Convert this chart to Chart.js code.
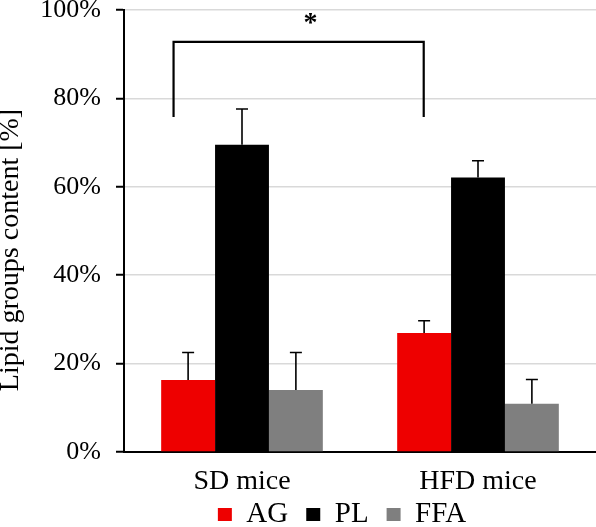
<!DOCTYPE html>
<html>
<head>
<meta charset="utf-8">
<script src="https://cdn.jsdelivr.net/npm/chart.js@4.4.0/dist/chart.umd.min.js"></script>
<style>
  html, body { margin: 0; padding: 0; background: #fff; }
  #wrap { width: 596px; height: 527px; }
</style>
</head>
<body>
<div id="wrap"><canvas id="lipidChart"></canvas></div>
<script>
const groups = ["SD mice", "HFD mice"];
const seriesNames = ["AG", "PL", "FFA"];
const agValues = [16.3, 26.9];
const plValues = [69.5, 62.1];
const ffaValues = [14.0, 10.9];
// only the upper half of the error bars is visible
const agErrors = [6.2, 2.8];
const plErrors = [8.1, 3.8];
const ffaErrors = [8.5, 5.5];
const yTicks = [0, 20, 40, 60, 80, 100];
const yTitle = "Lipid groups content [%]";
// significance bracket: x in category units, y in %
const bracketX = [-0.29, 0.77];
const bracketY = [92.8, 75.8];
const starAt = [0.29, 98.2];

const serif = "'Liberation Serif', 'Times New Roman', serif";

const extras = {
  id: "extras",
  beforeLayout(chart) {
    // legend box is made shorter than chart.js would make it
    const lg = chart.legend;
    if (lg && !lg.fitWrapped) {
      const fit = lg.fit;
      lg.fit = function () {
        fit.call(this);
        this.height = 30;
      };
      lg.fitWrapped = true;
    }
  },
  afterLayout(chart) {
    chart.legend.left = 88;
    chart.legend.top = 482;
  },
  afterDatasetsDraw(chart) {
    const ctx = chart.ctx;
    const xs = chart.scales.x;
    const ys = chart.scales.y;
    ctx.save();
    ctx.strokeStyle = "#000";
    ctx.lineWidth = 1.6;
    chart.data.datasets.forEach((ds, di) => {
      const meta = chart.getDatasetMeta(di);
      meta.data.forEach((bar, i) => {
        const top = ys.getPixelForValue(ds.data[i] + ds.errUp[i]);
        ctx.beginPath();
        ctx.moveTo(bar.x, bar.y);
        ctx.lineTo(bar.x, top);
        ctx.moveTo(bar.x - 6, top);
        ctx.lineTo(bar.x + 6, top);
        ctx.stroke();
      });
    });

    // bracket
    const x1 = xs.getPixelForValue(bracketX[0]);
    const x2 = xs.getPixelForValue(bracketX[1]);
    const yTop = ys.getPixelForValue(bracketY[0]);
    const yLeg = ys.getPixelForValue(bracketY[1]);
    ctx.lineWidth = 2.2;
    ctx.beginPath();
    ctx.moveTo(x1, yLeg);
    ctx.lineTo(x1, yTop);
    ctx.lineTo(x2, yTop);
    ctx.lineTo(x2, yLeg);
    ctx.stroke();

    ctx.fillStyle = "#000";
    ctx.font = "bold 28px " + serif;
    ctx.textAlign = "center";
    ctx.textBaseline = "alphabetic";
    ctx.fillText("*", xs.getPixelForValue(starAt[0]), ys.getPixelForValue(starAt[1]) + 13);

    // y title, sits a bit below the middle of the axis
    ctx.font = "28px " + serif;
    ctx.textBaseline = "middle";
    ctx.translate(11, (ys.top + ys.bottom) / 2 + 19);
    ctx.rotate(-Math.PI / 2);
    ctx.fillText(yTitle, 0, 0);
    ctx.restore();
  }
};

new Chart(document.getElementById("lipidChart"), {
  type: "bar",
  data: {
    labels: groups,
    datasets: [
      { label: seriesNames[0], data: agValues, errUp: agErrors, backgroundColor: "#ee0000" },
      { label: seriesNames[1], data: plValues, errUp: plErrors, backgroundColor: "#000000" },
      { label: seriesNames[2], data: ffaValues, errUp: ffaErrors, backgroundColor: "#7f7f7f" }
    ]
  },
  options: {
    responsive: true,
    maintainAspectRatio: false,
    animation: false,
    categoryPercentage: 0.685,
    barPercentage: 1,
    layout: { padding: { top: 10, left: 0, right: 0, bottom: 0 } },
    plugins: {
      tooltip: { enabled: false },
      legend: {
        position: "bottom",
        labels: {
          color: "#000",
          boxWidth: 14,
          boxHeight: 13,
          padding: 18,
          font: { family: serif, size: 29, lineHeight: 1 }
        }
      }
    },
    scales: {
      x: {
        grid: { display: false },
        border: { display: true, color: "#000", width: 2 },
        ticks: { color: "#000", padding: 5, font: { family: serif, size: 28 } },
        afterFit: (s) => {
          s.height = 45;
          s.paddingLeft = 0;
          s.paddingRight = 0;
        }
      },
      y: {
        min: 0,
        max: 100,
        afterBuildTicks: (s) => {
          s.ticks = yTicks.map((v) => ({ value: v }));
        },
        grid: { color: "#d9d9d9", lineWidth: 1.5, tickColor: "#000", tickLength: 8, tickWidth: 2 },
        border: { display: true, color: "#000", width: 2 },
        ticks: {
          color: "#000",
          padding: 15,
          font: { family: serif, size: 26 },
          callback: (v) => v + "%"
        },
        afterFit: (s) => {
          s.width = 124;
          s.paddingTop = 0;
          s.paddingBottom = 0;
        }
      }
    }
  },
  plugins: [extras]
});
</script>
</body>
</html>
